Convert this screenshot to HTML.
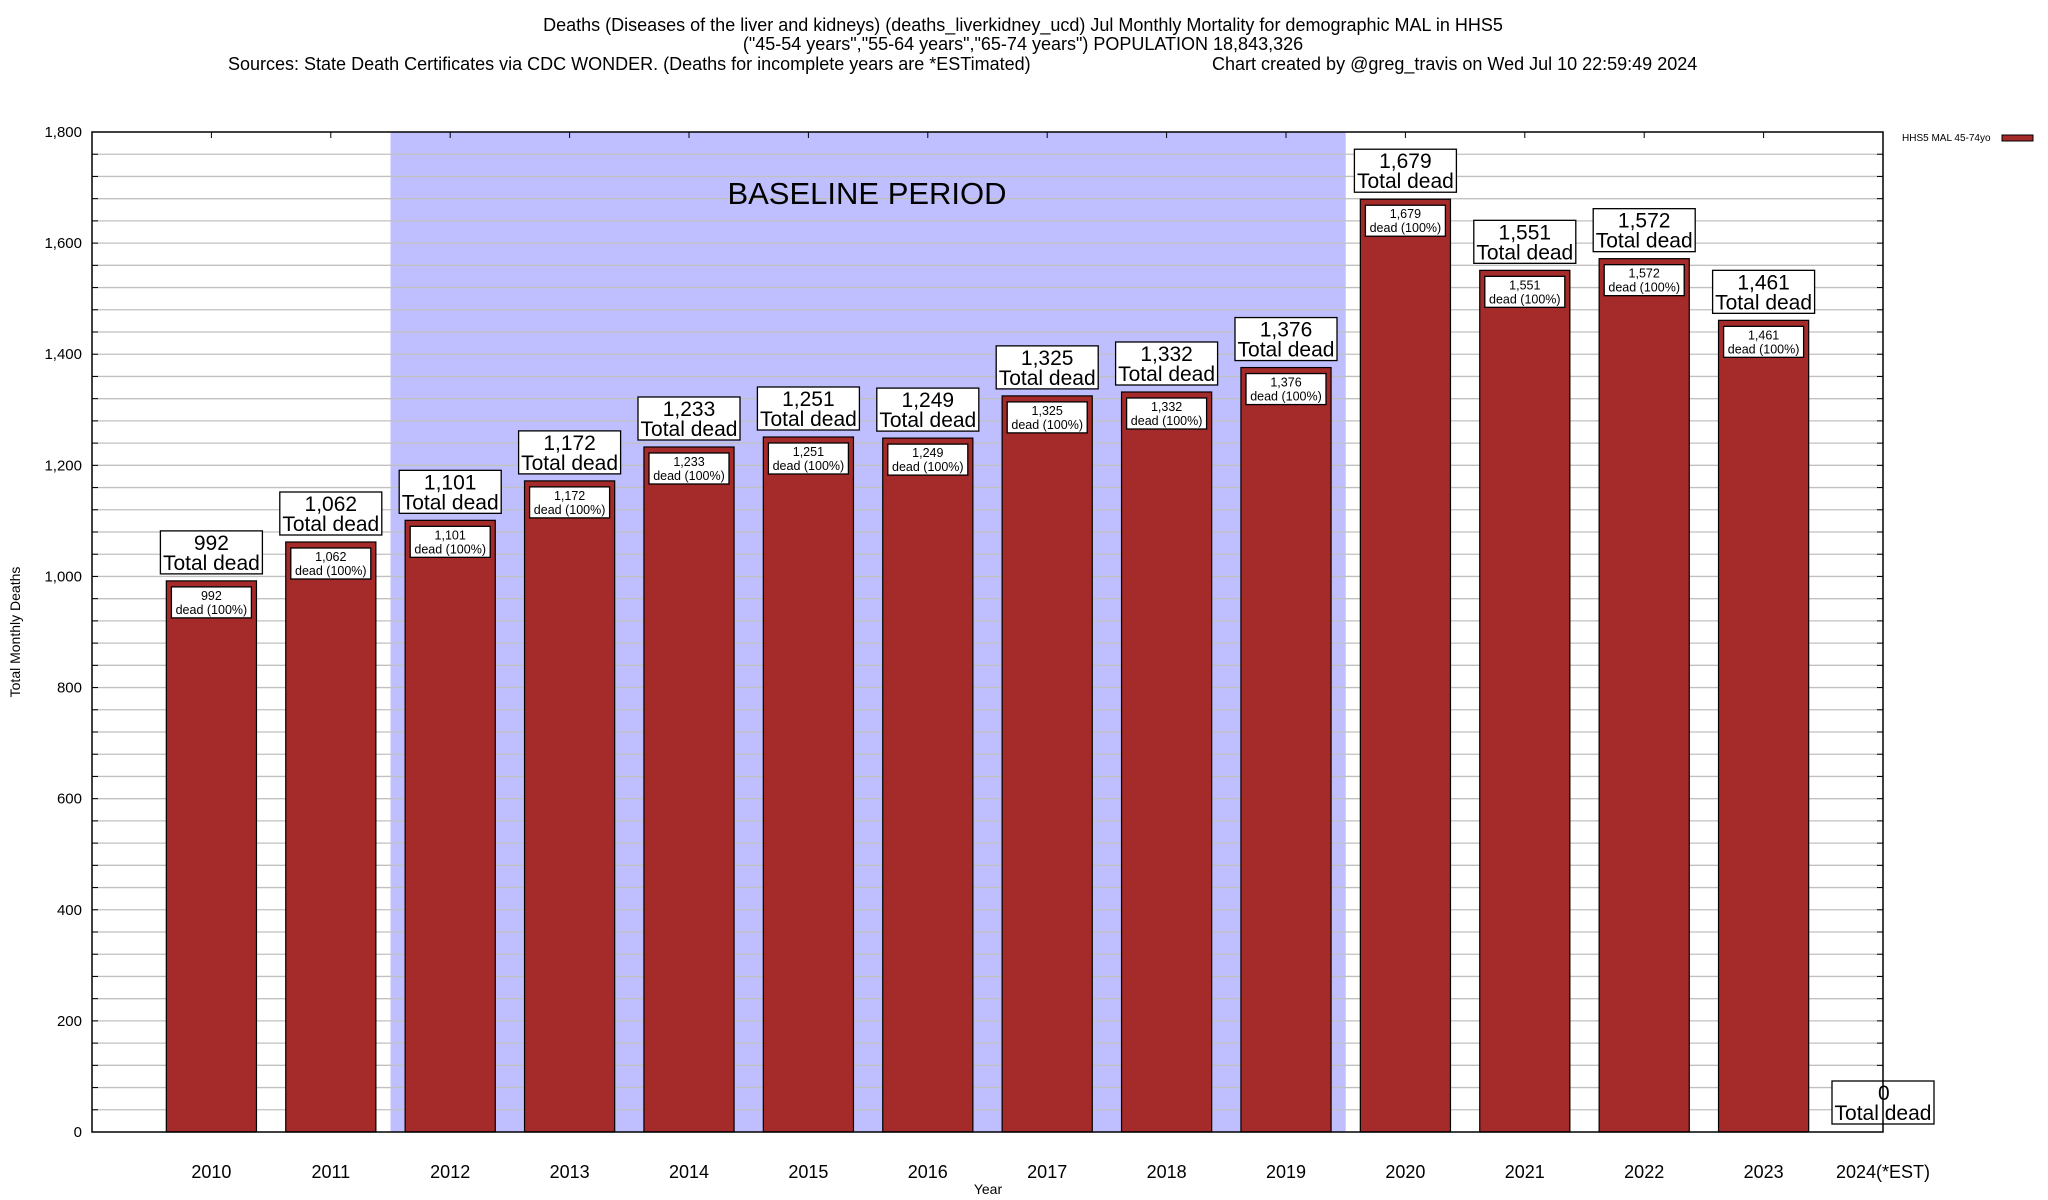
<!DOCTYPE html>
<html><head><meta charset="utf-8">
<style>
html,body{margin:0;padding:0;background:#fff;}
svg{display:block;font-family:"Liberation Sans",Arial,sans-serif;}
</style></head>
<body>
<svg id="chart" width="2048" height="1200" viewBox="0 0 2048 1200" xmlns="http://www.w3.org/2000/svg">
  <g font-size="18" fill="#000">
    <text x="1023" y="31" text-anchor="middle">Deaths (Diseases of the liver and kidneys) (deaths_liverkidney_ucd) Jul Monthly Mortality for demographic MAL in HHS5</text>
    <text x="1023" y="50" text-anchor="middle">("45-54 years","55-64 years","65-74 years") POPULATION 18,843,326</text>
    <text x="228" y="70">Sources: State Death Certificates via CDC WONDER. (Deaths for incomplete years are *ESTimated)</text>
    <text x="1212" y="70">Chart created by @greg_travis on Wed Jul 10 22:59:49 2024</text>
  </g>
  <g id="plot"></g>
  <text x="867" y="204" font-size="31" text-anchor="middle">BASELINE PERIOD</text>
  <text transform="translate(20,632) rotate(-90)" font-size="14" text-anchor="middle">Total Monthly Deaths</text>
  <text x="988" y="1194" font-size="14" text-anchor="middle">Year</text>
  <g>
    <text x="1902" y="141" font-size="10">HHS5 MAL 45-74yo</text>
    <rect x="2002" y="135" width="31" height="6" fill="#a52a2a" stroke="#000" stroke-width="1"/>
  </g>
</svg>
<script>
const categories = ["2010","2011","2012","2013","2014","2015","2016","2017","2018","2019","2020","2021","2022","2023","2024(*EST)"];
const values = [992,1062,1101,1172,1233,1251,1249,1325,1332,1376,1679,1551,1572,1461,0];
const valueLabels = ["992","1,062","1,101","1,172","1,233","1,251","1,249","1,325","1,332","1,376","1,679","1,551","1,572","1,461","0"];
const yTicks = [0,200,400,600,800,1000,1200,1400,1600,1800];
const yTickLabels = ["0","200","400","600","800","1,000","1,200","1,400","1,600","1,800"];
const baselineRange = [1.5, 9.5];

const NS = "http://www.w3.org/2000/svg";
const L = 92, R = 1883, T = 132, B = 1132, YMAX = 1800;
const step = (R - L) / 15;
function xScale(i){ return L + (i + 1) * step; }
function yScale(v){ return B - v / YMAX * (B - T); }
const plot = document.getElementById('plot');
function mk(tag, attrs, parent){
  const e = document.createElementNS(NS, tag);
  for (const k in attrs) e.setAttribute(k, attrs[k]);
  (parent || plot).appendChild(e);
  return e;
}

// baseline shading
const bx0 = xScale(baselineRange[0]), bx1 = xScale(baselineRange[1]);
const shade = mk('rect', {x:bx0, y:T, width:bx1-bx0, height:B-T, fill:'#bfbfff'});



// grid lines every 40
for (let v = 40; v < YMAX; v += 40) {
  const g = mk('line', {x1:L, x2:R, y1:yScale(v), y2:yScale(v), stroke:'#c0c0c0', 'stroke-width':1.3});
  
  
  const t1 = mk('line', {x1:L, x2:L+6, y1:yScale(v), y2:yScale(v), stroke:'#000'});
  
  
  const t2 = mk('line', {x1:R-6, x2:R, y1:yScale(v), y2:yScale(v), stroke:'#000'});
  
  
}

// y tick labels
yTicks.forEach((v, k) => {
  const t = mk('text', {x:L-10, y:yScale(v)+5, 'font-size':15, 'text-anchor':'end'});
  t.textContent = yTickLabels[k];
  
  
});

// bars
const bw = step * 0.755;
categories.forEach((c, i) => {
  const cx = xScale(i), v = values[i], yt = yScale(v);
  if (v > 0) {
    const bar = mk('rect', {x:cx-bw/2, y:yt, width:bw, height:B-yt, fill:'#a52a2a', stroke:'#000', 'stroke-width':1.2});
    
    
    const ib = mk('rect', {x:cx-40, y:yt+6, width:80, height:31, fill:'#fff', stroke:'#000', 'stroke-width':1.3});
    
    
    const it1 = mk('text', {x:cx, y:yt+19, 'font-size':12.5, 'text-anchor':'middle'});
    it1.textContent = valueLabels[i];
    
    
    const it2 = mk('text', {x:cx, y:yt+33, 'font-size':12.5, 'text-anchor':'middle'});
    it2.textContent = 'dead (100%)';
    
    
  }
  const top = v > 0 ? yt - 50 : yScale(v) - 51;
  const ob = mk('rect', {x:cx-51, y:top, width:102, height:43, fill:'#fff', stroke:'#000', 'stroke-width':1.3});
  
  
  const ot1 = mk('text', {x:v>0?cx:cx-5, y:top+19, 'font-size':21, 'text-anchor':v>0?'middle':'start'});
  ot1.textContent = valueLabels[i];
  
  
  const ot2 = mk('text', {x:cx, y:top+39, 'font-size':21, 'text-anchor':'middle'});
  ot2.textContent = 'Total dead';
  
  
  const tt = mk('line', {x1:cx, x2:cx, y1:T, y2:T+6, stroke:'#000'});
  
  
  const xl = mk('text', {x:cx, y:1178, 'font-size':18, 'text-anchor':'middle'});
  xl.textContent = c;
  
  
});

// axes frame
const frame = mk('rect', {x:L, y:T, width:R-L, height:B-T, fill:'none', stroke:'#000', 'stroke-width':1.5});


</script>
</body></html>
